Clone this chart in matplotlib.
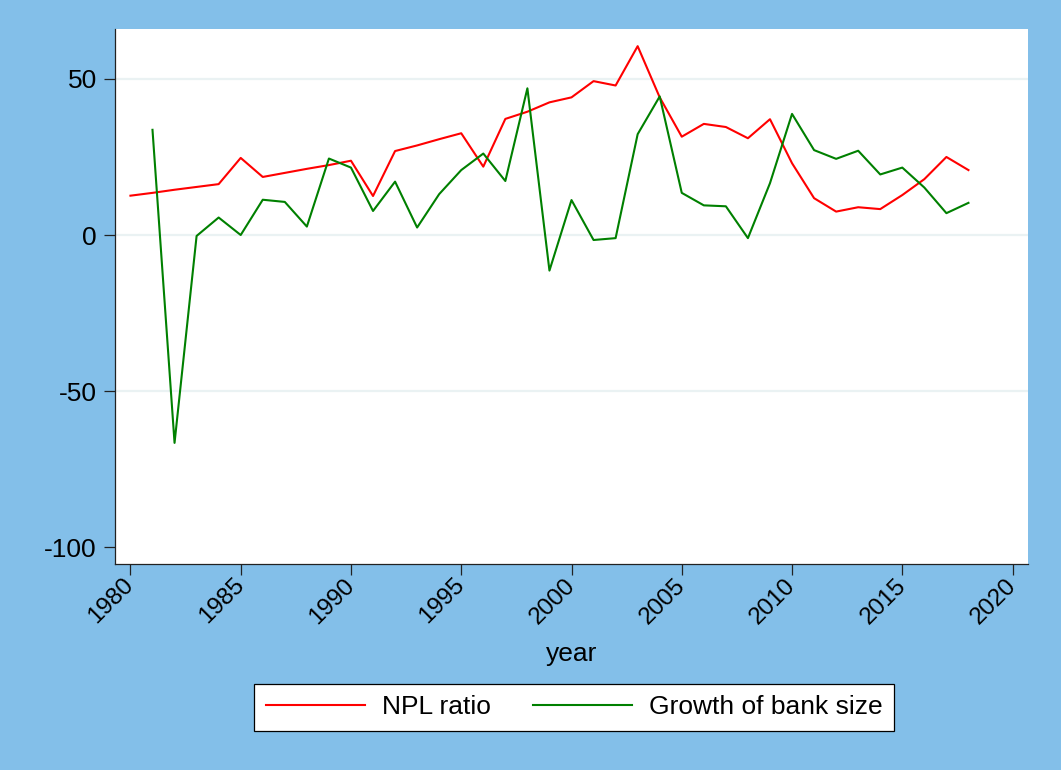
import matplotlib
matplotlib.use("Agg")
import matplotlib.pyplot as plt

plt.rcParams['font.family'] = ['Liberation Sans', 'DejaVu Sans']
plt.rcParams['axes.unicode_minus'] = False

# data
years = list(range(1980, 2019))
npl_ratio = [12.6, 13.5, 14.5, 15.4, 16.3, 24.7, 18.6, 19.9, 21.2, 22.4,
             23.8, 12.5, 26.9, 28.7, 30.7, 32.6, 21.9, 37.2, 39.5, 42.5,
             44.1, 49.3, 47.9, 60.5, 44.1, 31.5, 35.6, 34.6, 31.0, 37.1,
             23.0, 11.8, 7.5, 8.9, 8.3, 12.8, 17.9, 25.0, 20.8]
growth_years = list(range(1981, 2019))
bank_growth = [33.7, -66.6, -0.3, 5.6, 0.0, 11.3, 10.6, 2.7, 24.5,
               21.6, 7.7, 17.1, 2.4, 13.1, 20.8, 26.1, 17.3, 47.0, -11.4,
               11.2, -1.6, -1.0, 32.3, 44.4, 13.5, 9.5, 9.2, -1.0, 16.6,
               38.8, 27.2, 24.4, 27.0, 19.4, 21.6, 15.2, 7.0, 10.3]
x_ticks = [1980, 1985, 1990, 1995, 2000, 2005, 2010, 2015, 2020]
y_ticks = [-100, -50, 0, 50]

bg = '#83bfe9'
fs = 19

fig = plt.figure(figsize=(10.61, 7.70), dpi=100, facecolor=bg)
ax = fig.add_axes([115 / 1061, 1 - 564 / 770, (1028 - 115) / 1061, (564 - 29) / 770])
ax.set_facecolor('white')

# grid lines (not at the bottom tick)
for y in y_ticks[1:]:
    ax.axhline(y, color='#eaf2f3', lw=1.6, zorder=0)

ax.plot(years, npl_ratio, color='#ff0000', lw=1.5, label='NPL ratio')
ax.plot(growth_years, bank_growth, color='#008000', lw=1.5, label='Growth of bank size')

ax.set_xlim(1979.3, 2020.7)
ax.set_ylim(-105.4, 66.0)
ax.set_xticks(x_ticks)
ax.set_yticks(y_ticks)

for s in ['top', 'right']:
    ax.spines[s].set_visible(False)
for s in ['left', 'bottom']:
    ax.spines[s].set_color('#222222')
    ax.spines[s].set_linewidth(0.9)

ax.tick_params(axis='both', length=8, width=0.9, color='#222222',
               labelsize=fs, pad=5)
ax.set_xticklabels([str(t) for t in x_ticks], rotation=45, ha='right',
                   va='center', rotation_mode='anchor', fontsize=17.5)
ax.set_xlabel('year', fontsize=fs, labelpad=10)

leg = fig.legend(loc='center', bbox_to_anchor=(574 / 1061, 1 - 707.5 / 770),
                 ncol=2, fontsize=fs, frameon=True, fancybox=False,
                 handlelength=3.75, handletextpad=0.64, columnspacing=1.6,
                 borderpad=0.45, framealpha=1)
leg.get_frame().set_edgecolor('black')
leg.get_frame().set_linewidth(0.9)

fig.savefig('out.png', dpi=100, facecolor=bg)
